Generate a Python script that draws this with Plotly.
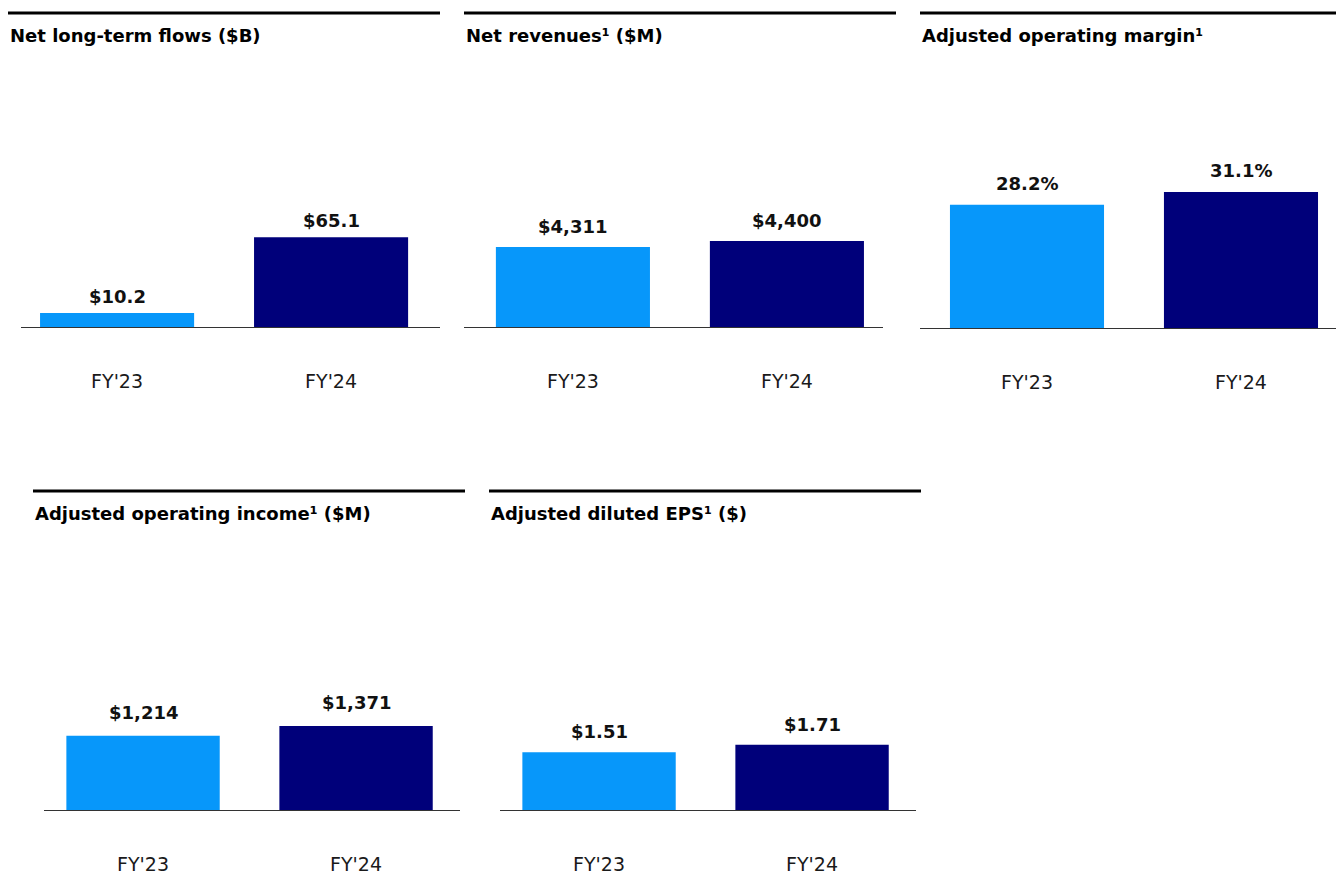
import plotly.graph_objects as go

# ---- data ----
categories = ["FY'23", "FY'24"]
titles = [
    "Net long-term flows ($B)",
    "Net revenues¹ ($M)",
    "Adjusted operating margin¹",
    "Adjusted operating income¹ ($M)",
    "Adjusted diluted EPS¹ ($)",
]
net_flows = [10.2, 65.1]
net_revenues = [4311, 4400]
op_margin = [28.2, 31.1]
op_income = [1214, 1371]
diluted_eps = [1.51, 1.71]
label_net_flows = ["$10.2", "$65.1"]
label_net_revenues = ["$4,311", "$4,400"]
label_op_margin = ["28.2%", "31.1%"]
label_op_income = ["$1,214", "$1,371"]
label_diluted_eps = ["$1.51", "$1.71"]

series = [net_flows, net_revenues, op_margin, op_income, diluted_eps]
labels = [label_net_flows, label_net_revenues, label_op_margin, label_op_income, label_diluted_eps]

# ---- style / layout ----
W, H = 1336, 876
FONT = "DejaVu Sans, Verdana, sans-serif"
BAR_COLORS = ["#0797FA", "#00007A"]

def px(x):
    return x / W

def py(y):
    return 1 - y / H

panels = [
    dict(x0=21, x1=440, base=327, top=60, xr=[-0.449, 1.509], yr=[0, 193.5],
         tl=(8, 440, 13), tt=(8, 35), gap=8),
    dict(x0=464, x1=883, base=327, top=60, xr=[-0.509, 1.449], yr=[3124, 7085],
         tl=(464, 896, 13), tt=(464, 35), gap=12),
    dict(x0=920, x1=1336, base=328, top=60, xr=[-0.5, 1.444], yr=[0, 61.3],
         tl=(920, 1336, 13), tt=(920, 35), gap=13),
    dict(x0=44, x1=460, base=810, top=540, xr=[-0.465, 1.488], yr=[0, 4412],
         tl=(33, 465, 491), tt=(33, 513), gap=15),
    dict(x0=500, x1=916, base=810, top=540, xr=[-0.465, 1.488], yr=[0, 7.07],
         tl=(489, 921, 491), tt=(489, 513), gap=12),
]

fig = go.Figure()
shapes = []
annotations = []

for i, (p, vals, labs, title) in enumerate(zip(panels, series, labels, titles)):
    n = "" if i == 0 else str(i + 1)
    xa, ya = "x" + n, "y" + n
    fig.add_trace(go.Bar(
        x=categories, y=vals, xaxis=xa, yaxis=ya,
        marker=dict(color=BAR_COLORS, line=dict(width=0)),
        width=0.72, showlegend=False, hoverinfo="skip",
    ))
    fig.layout["xaxis" + n] = dict(
        domain=[px(p["x0"]), px(p["x1"])], anchor=ya, range=p["xr"],
        showline=True, linecolor="#333333", linewidth=1,
        showgrid=False, zeroline=False, ticks="", fixedrange=True,
        tickfont=dict(family=FONT, size=19, color="#1a1a1a"),
        ticklabelstandoff=37,
    )
    fig.layout["yaxis" + n] = dict(
        domain=[py(p["base"]), py(p["top"])], anchor=xa, range=p["yr"],
        visible=False, showgrid=False, zeroline=False, fixedrange=True,
    )
    for c, v, t in zip(categories, vals, labs):
        annotations.append(dict(
            x=c, y=v, xref=xa, yref=ya, text="<b>%s</b>" % t, showarrow=False,
            yanchor="bottom", xanchor="center", yshift=p["gap"] - 4,
            font=dict(family=FONT, size=18, color="#111111"),
        ))
    lx0, lx1, ly = p["tl"]
    shapes.append(dict(type="line", xref="paper", yref="paper",
                       x0=px(lx0), x1=px(lx1), y0=py(ly), y1=py(ly),
                       line=dict(color="#000000", width=3)))
    tx, ty = p["tt"]
    annotations.append(dict(
        x=px(tx), y=py(ty), xref="paper", yref="paper", text="<b>%s</b>" % title,
        showarrow=False, xanchor="left", yanchor="middle",
        font=dict(family=FONT, size=18, color="#000000"),
    ))

fig.update_layout(
    width=W, height=H,
    margin=dict(l=0, r=0, t=0, b=0),
    paper_bgcolor="white", plot_bgcolor="white",
    shapes=shapes, annotations=annotations,
)

fig.write_html(
    "out.html",
    config={"displayModeBar": False},
    post_script="document.body.style.margin='0';document.body.style.overflow='hidden';",
)
